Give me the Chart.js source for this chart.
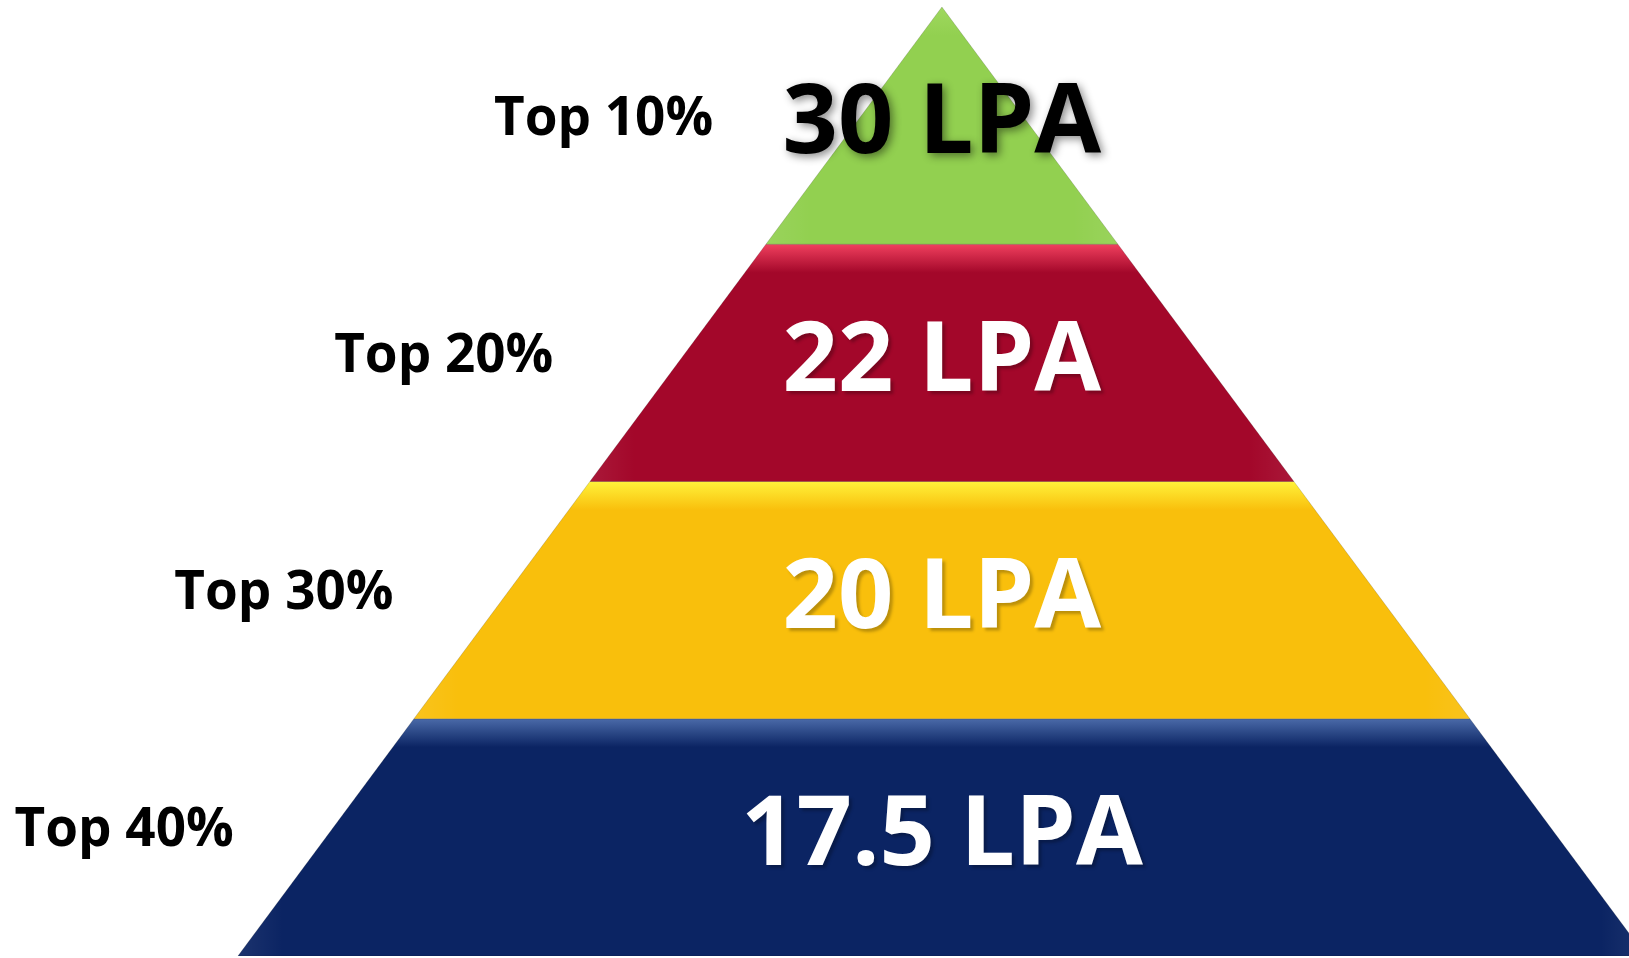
<!DOCTYPE html>
<html>
<head>
<meta charset="utf-8">
<title>Salary pyramid</title>
<script src="https://cdn.jsdelivr.net/npm/chart.js@4.4.1/dist/chart.umd.min.js"></script>
<style>
  html, body { margin: 0; padding: 0; background: #fff; overflow: hidden; }
  #wrap { width: 1629px; height: 958px; }
</style>
</head>
<body>
<div id="wrap"><canvas id="chart"></canvas></div>
<script>
// data, top of the pyramid first
const tiers = ['Top 10%', 'Top 20%', 'Top 30%', 'Top 40%'];
const salaries = [30, 22, 20, 17.5];
const unit = 'LPA';

// styles
const baseColors = ['#92d050', '#a3072a', '#f9bf0c', '#0b2463'];
const lightColors = ['#9fd85e', '#f0405e', '#fff23a', '#4a6aa8'];
const textColors = ['#000', '#fff', '#fff', '#fff'];

const levels = tiers.length;
// half width of the pyramid at a given height (base = 0, apex = levels)
const halfWidth = (h) => (levels - h) / levels;

const datasets = tiers.map((t, i) => {
  const top = levels - i, bottom = levels - i - 1;
  const pts = [
    { x: -halfWidth(bottom), y: bottom },
    { x: halfWidth(bottom), y: bottom },
    { x: halfWidth(top), y: top },
    { x: -halfWidth(top), y: top },
    { x: -halfWidth(bottom), y: bottom }
  ];
  return {
    label: t,
    data: pts,
    showLine: true,
    fill: 'shape',
    pointRadius: 0,
    borderWidth: 1,
    borderColor: 'rgba(0,0,0,0.15)',
    backgroundColor: (ctx) => {
      const chart = ctx.chart;
      if (!chart.chartArea) return baseColors[i];
      const y = chart.scales.y;
      const y0 = y.getPixelForValue(top), y1 = y.getPixelForValue(bottom);
      const g = chart.ctx.createLinearGradient(0, y0, 0, y1);
      g.addColorStop(0, lightColors[i]);
      g.addColorStop(0.12, baseColors[i]);
      g.addColorStop(1, baseColors[i]);
      return g;
    }
  };
});

// soft bevel on the slanted sides
const bevel = {
  id: 'bevel',
  afterDatasetsDraw(chart) {
    const { ctx, scales: { x, y } } = chart;
    ctx.save();
    ctx.beginPath();
    ctx.rect(chart.chartArea.left, chart.chartArea.top, chart.chartArea.width, chart.chartArea.height);
    ctx.clip();
    tiers.forEach((t, i) => {
      const top = levels - i, bottom = levels - i - 1;
      const yt = y.getPixelForValue(top), yb = y.getPixelForValue(bottom);
      const inset = 45;
      [-1, 1].forEach(side => {
        const xt = x.getPixelForValue(side * halfWidth(top));
        const xb = x.getPixelForValue(side * halfWidth(bottom));
        const g = ctx.createLinearGradient(xb, 0, xb - side * inset, 0);
        g.addColorStop(0, 'rgba(255,255,255,0.07)');
        g.addColorStop(1, 'rgba(255,255,255,0)');
        ctx.beginPath();
        ctx.moveTo(xt, yt);
        ctx.lineTo(xb, yb);
        ctx.lineTo(xb - side * inset, yb);
        ctx.lineTo(xt - side * inset, yt + (i === 0 ? inset * 1.3 : 0));
        ctx.closePath();
        ctx.fillStyle = g;
        ctx.fill();
      });
    });
    ctx.restore();
  }
};

const labels = {
  id: 'labels',
  afterDraw(chart) {
    const { ctx, scales: { x, y } } = chart;
    ctx.save();
    tiers.forEach((t, i) => {
      const mid = y.getPixelForValue(levels - i - 0.5);
      // salary inside the layer
      ctx.font = 'bold 97px "Open Sans", sans-serif';
      ctx.textAlign = 'center';
      ctx.textBaseline = 'middle';
      ctx.fillStyle = textColors[i];
      ctx.shadowColor = i === 0 ? 'rgba(0,0,0,0.45)' : 'rgba(0,0,0,0.25)';
      ctx.shadowBlur = i === 0 ? 8 : 3;
      ctx.shadowOffsetX = 3;
      ctx.shadowOffsetY = 3;
      ctx.fillText(salaries[i] + ' ' + unit, x.getPixelForValue(0), mid);
      // tier name on the left
      ctx.shadowColor = 'transparent';
      ctx.font = 'bold 53px "Open Sans", sans-serif';
      ctx.textAlign = 'right';
      ctx.fillStyle = '#000';
      ctx.fillText(t, x.getPixelForValue(-0.325 - 0.227 * i), mid - 6);
    });
    ctx.restore();
  }
};

new Chart(document.getElementById('chart'), {
  type: 'scatter',
  data: { datasets },
  options: {
    responsive: true,
    maintainAspectRatio: false,
    animation: false,
    layout: { padding: { top: 7, bottom: 2, left: 0, right: 0 } },
    plugins: { legend: { display: false }, tooltip: { enabled: false } },
    scales: {
      x: { type: 'linear', min: -1.338, max: 0.976, display: false },
      y: { type: 'linear', min: 0, max: levels, display: false }
    }
  },
  plugins: [bevel, labels]
});
</script>
</body>
</html>
